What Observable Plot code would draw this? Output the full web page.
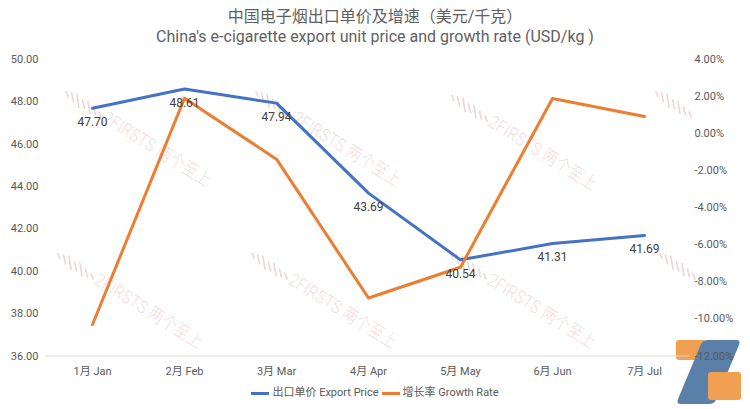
<!DOCTYPE html>
<html><head><meta charset="utf-8">
<script src="https://cdn.jsdelivr.net/npm/d3@7"></script>
<script src="https://cdn.jsdelivr.net/npm/@observablehq/plot@0.6"></script>
<style>
body{margin:0;background:#fff;font-family:Roboto,"Noto Sans CJK SC",sans-serif;}
#wrap{position:relative;width:750px;height:409px;overflow:hidden;}
#title{position:relative;z-index:2;text-align:center;color:#5f5f5f;font-size:16px;line-height:20px;padding-top:7px;height:41px;}
#chart{position:relative;z-index:2;height:337px;}
#chart svg{display:block;background:transparent;}
#legend{position:relative;z-index:2;display:flex;justify-content:center;align-items:center;font-size:11px;color:#595959;height:16px;line-height:16px;}
.sw{display:inline-block;width:18px;height:3px;margin:0 3px 0 0;}
.wm{position:absolute;z-index:0;transform-origin:0 0;transform:rotate(32deg) scaleY(1.2);white-space:nowrap;color:rgba(222,160,165,0.40);font-size:15px;font-weight:300;letter-spacing:0.3px;}
.wmi{position:absolute;z-index:0;}
#logo{position:absolute;z-index:1;left:668px;top:336px;}
</style></head>
<body>
<div id="wrap">
  <div id="title">中国电子烟出口单价及增速（美元/千克）<br>China's e-cigarette export unit price and growth rate (USD/kg )</div>
  <div id="chart"></div>
  <div id="legend">
    <span class="sw" style="background:#4472C4"></span><span>出口单价 Export Price</span>
    <span class="sw" style="background:#ED7D31;margin-left:3px"></span><span>增长率 Growth Rate</span>
  </div>
</div>
<script>
const months = ["1月 Jan","2月 Feb","3月 Mar","4月 Apr","5月 May","6月 Jun","7月 Jul"];
const price = [47.70, 48.61, 47.94, 43.69, 40.54, 41.31, 41.69];
const growth = [-10.30, 1.91, -1.38, -8.87, -7.21, 1.90, 0.92];
const priceTicks = [36, 38, 40, 42, 44, 46, 48, 50];
const growthTicks = [-12, -10, -8, -6, -4, -2, 0, 2, 4];
const priceDomain = [36, 50];
const growthDomain = [-12, 4];

const toY = g => priceDomain[0] + (g - growthDomain[0]) * (priceDomain[1] - priceDomain[0]) / (growthDomain[1] - growthDomain[0]);
const fromY = v => Math.round((v - priceDomain[0]) * (growthDomain[1] - growthDomain[0]) / (priceDomain[1] - priceDomain[0]) + growthDomain[0]);

const rows = months.map((m, i) => ({m, price: price[i], growth: growth[i]}));

const chart = Plot.plot({
  width: 750, height: 337,
  marginLeft: 45, marginRight: 60, marginTop: 11, marginBottom: 29.5,
  x: {type: "point", domain: months, padding: 0.5, label: null},
  y: {domain: priceDomain, label: null},
  style: {fontFamily: 'Roboto,"Noto Sans CJK SC",sans-serif', fontSize: "11px", color: "#595959", background: "transparent"},
  marks: [
    Plot.ruleY([priceDomain[0]], {stroke: "#d9d9d9", strokeWidth: 1}),
    Plot.axisX({tickSize: 0, tickPadding: 11, fontSize: 11}),
    Plot.axisY(priceTicks, {anchor: "left", tickSize: 0, tickPadding: 7, fontSize: 11, tickFormat: d => d.toFixed(2)}),
    Plot.axisY(growthTicks.map(toY), {anchor: "right", tickSize: 0, tickPadding: 4, fontSize: 11, textAnchor: "start", tickFormat: v => fromY(v).toFixed(2) + "%"}),
    Plot.line(rows, {x: "m", y: "price", stroke: "#4472C4", strokeWidth: 3, strokeLinejoin: "round", strokeLinecap: "round"}),
    Plot.line(rows, {x: "m", y: d => toY(d.growth), stroke: "#ED7D31", strokeWidth: 3, strokeLinejoin: "round", strokeLinecap: "round"}),
    Plot.text(rows, {x: "m", y: "price", text: d => d.price.toFixed(2), dy: 14, fill: "#404040", fontSize: 12})
  ]
});
document.getElementById("chart").appendChild(chart);

// watermark decoration
const wrap = document.getElementById("wrap");
const wmPos = [[112,104,true],[302,104,true],[498,108,true],[702,104,false],[104,266,true],[298,266,true],[497,266,true],[706,266,false]];
for (const [x, y, withText] of wmPos) {
  if (withText) {
    const t = document.createElement("div");
    t.className = "wm";
    t.style.left = x + "px"; t.style.top = y + "px";
    t.textContent = "2FIRSTS 两个至上";
    wrap.appendChild(t);
  }
  const ic = document.createElementNS("http://www.w3.org/2000/svg", "svg");
  ic.setAttribute("class", "wmi");
  ic.setAttribute("width", 44); ic.setAttribute("height", 30);
  ic.style.left = (x - 50) + "px"; ic.style.top = (y - 16) + "px";
  let s = "";
  const lens = [5, 9, 13, 9, 12, 8, 5];
  lens.forEach((l, i) => {
    const cx = 4 + i * 5.5, cy = 6 + i * 3.4;
    s += `<line x1="${cx}" y1="${cy - l/2}" x2="${cx + 2}" y2="${cy + l/2}" stroke="rgba(222,160,165,0.45)" stroke-width="1.6" stroke-linecap="round"/>`;
  });
  ic.innerHTML = s;
  wrap.appendChild(ic);
}
// corner logo decoration
const logo = document.createElementNS("http://www.w3.org/2000/svg", "svg");
logo.setAttribute("id", "logo");
logo.setAttribute("width", 82); logo.setAttribute("height", 73);
logo.innerHTML = `
  <rect x="8" y="4" width="30" height="20" rx="3" fill="#F0A050"/>
  <path d="M40 4 L68 4 Q73 4 71 9 L48 64 Q46 68 41 68 L13 68 Q8 68 10 63 L33 8 Q35 4 40 4 Z" fill="#5A7FA8"/>
  <rect x="40" y="36" width="33" height="28" rx="3" fill="#F0A050"/>`;
wrap.appendChild(logo);
</script>
</body></html>
